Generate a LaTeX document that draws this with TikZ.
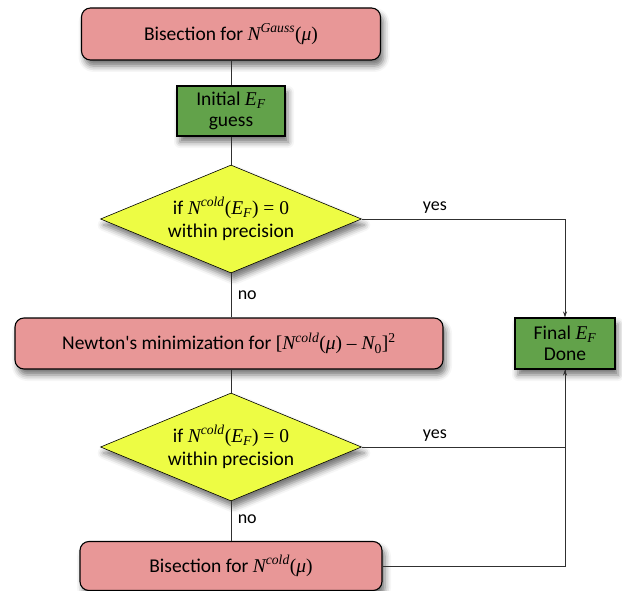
\documentclass[tikz,border=0pt]{standalone}
\usepackage{fontspec}
\setmainfont{Carlito}[Ligatures=TeXOff]
\newfontfamily\tms{Liberation Serif}
\usetikzlibrary{shapes.geometric,shadows.blur,arrows.meta}
\definecolor{pinkf}{HTML}{E89797}
\definecolor{greenf}{HTML}{62A24A}
\definecolor{yellowf}{HTML}{EDFC44}
\definecolor{linec}{HTML}{303030}
\newcommand\mvar[1]{{\tms\itshape #1}}
\newcommand\msup[1]{\textsuperscript{\tms\itshape #1}}
\newcommand\msub[1]{\textsubscript{\tms\itshape #1}}
\begin{document}
\begin{tikzpicture}[x=1pt,y=-1pt,
  font=\fontsize{19.5}{22}\selectfont,
  shad/.style={blur shadow={shadow xshift=3pt,shadow yshift=-6pt,shadow blur radius=6pt,shadow opacity=55}},
  procbox/.style={draw=black,line width=1.1pt,fill=pinkf,rounded corners=9pt,inner sep=0pt,shad},
  gbox/.style={draw=black,line width=1.1pt,fill=greenf,inner sep=0pt,align=center,shad},
  decision/.style={diamond,draw=black,line width=0.6pt,fill=yellowf,inner sep=0pt,shape aspect=2.4,
     minimum width=261pt,minimum height=108pt,align=center,shad},
  conn/.style={draw=linec,line width=0.9pt},
  tip/.style={-{Stealth[length=6pt,width=4pt]}},
  lbl/.style={font=\fontsize{18}{20}\selectfont}
  ]
\useasboundingbox (0,0) rectangle (622,591);

\node[procbox,minimum width=299pt,minimum height=52pt] (top) at (231,34) {Bisection for \mvar{N}\msup{Gauss}{\tms(\itshape μ\upshape)}};
\node[gbox,minimum width=108pt,minimum height=50pt] (init) at (231,111) {Initial \mvar{E}\msub{F}\\[-1pt]guess};
\node[decision] (d1) at (231,219) {if \mvar{N}\msup{cold}{\tms(\itshape E\textsubscript{F}\upshape) = 0}\\[1pt]within precision};
\node[procbox,minimum width=428pt,minimum height=51pt] (newton) at (229,343.5) {Newton's minimization for {\tms[}\mvar{N}\msup{cold}{\tms(\itshape μ\upshape) – \itshape N\upshape\textsubscript{0}]\textsuperscript{2}}};
\node[gbox,minimum width=100pt,minimum height=51pt] (final) at (565,343.5) {Final \mvar{E}\msub{F}\\[-1pt]Done};
\node[decision] (d2) at (231,447) {if \mvar{N}\msup{cold}{\tms(\itshape E\textsubscript{F}\upshape) = 0}\\[1pt]within precision};
\node[procbox,minimum width=302pt,minimum height=49pt] (bot) at (231,566) {Bisection for \mvar{N}\msup{cold}{\tms(\itshape μ\upshape)}};

\draw[conn] (top) -- (init);
\draw[conn] (init) -- (d1);
\draw[conn] (d1.south) -- node[lbl,right,xshift=3pt,pos=0.5] {no} (d1.south |- newton.north);
\draw[conn] (d2.north |- newton.south) -- (d2.north);
\draw[conn] (d2) -- node[lbl,right,xshift=3pt,pos=0.45] {no} (bot);
\draw[conn,tip] (d1.east) -| node[lbl,above,pos=0.18,yshift=2pt] {yes} (final.north);
\draw[conn] (d2.east) -| node[lbl,above,pos=0.18,yshift=2pt] {yes} (final.south);
\draw[conn,tip] (bot.east) -| (final.south);
\end{tikzpicture}
\end{document}
